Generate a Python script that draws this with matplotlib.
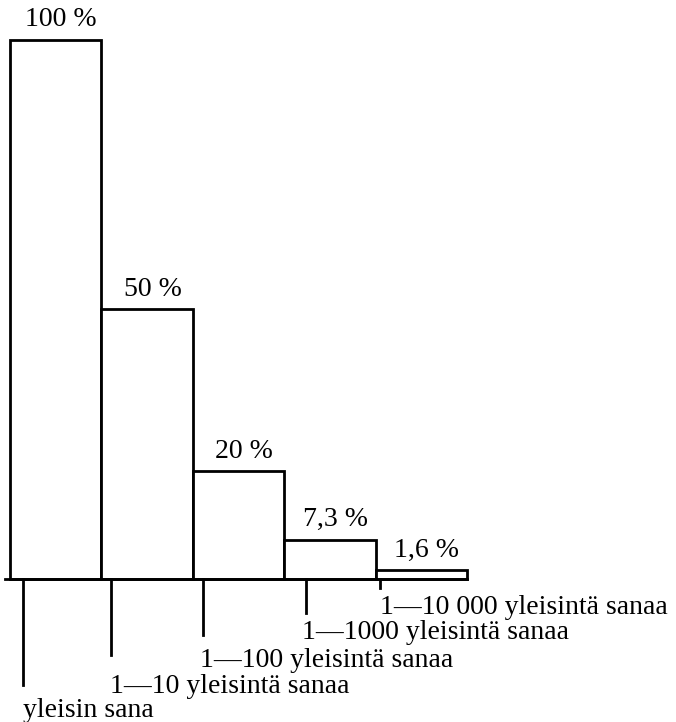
import matplotlib.pyplot as plt
import numpy as np

# osuus teksteistä, jonka yleisimmät sanat kattavat
luokat = ["yleisin sana", "1—10 yleisintä sanaa", "1—100 yleisintä sanaa",
          "1—1000 yleisintä sanaa", "1—10 000 yleisintä sanaa"]
osuudet = [100, 50, 20, 7.3, 1.6]
osuus_tekstit = ["100 %", "50 %", "20 %", "7,3 %", "1,6 %"]

# viivojen paikat ja pituudet (asettelu)
viiva_x = [0.14, 1.11, 2.11, 3.24, 4.05]
viiva_ala = [-19.7, -14.1, -10.4, -6.3, -1.6]
teksti_x = [0.14, 1.09, 2.08, 3.20, 4.05]
teksti_y = [-24.4, -20.0, -15.2, -9.9, -5.3]

plt.rcParams["font.family"] = ["Liberation Serif", "DejaVu Serif"]

fig = plt.figure(figsize=(6.76, 7.22), dpi=100)
ax = fig.add_axes([0, 0, 1, 1])
ax.set_xlim(-0.109, 7.287)
ax.set_ylim(-26.53, 107.4)
ax.axis("off")

x = np.arange(len(osuudet))
ax.bar(x, osuudet, width=1.0, align="edge", facecolor="white",
       edgecolor="black", linewidth=2.0)
ax.plot([-0.05, 5.0], [0, 0], color="black", linewidth=2.0)

for xi, h, t in zip(x, osuudet, osuus_tekstit):
    ax.text(xi + 0.56, h + 1.4, t, ha="center", va="bottom", fontsize=20)

for vx, va, tx, ty, nimi in zip(viiva_x, viiva_ala, teksti_x, teksti_y, luokat):
    ax.plot([vx, vx], [0, va], color="black", linewidth=2.0)
    ax.text(tx, ty, nimi, ha="left", va="center", fontsize=20)

fig.savefig("out.png", dpi=100)
